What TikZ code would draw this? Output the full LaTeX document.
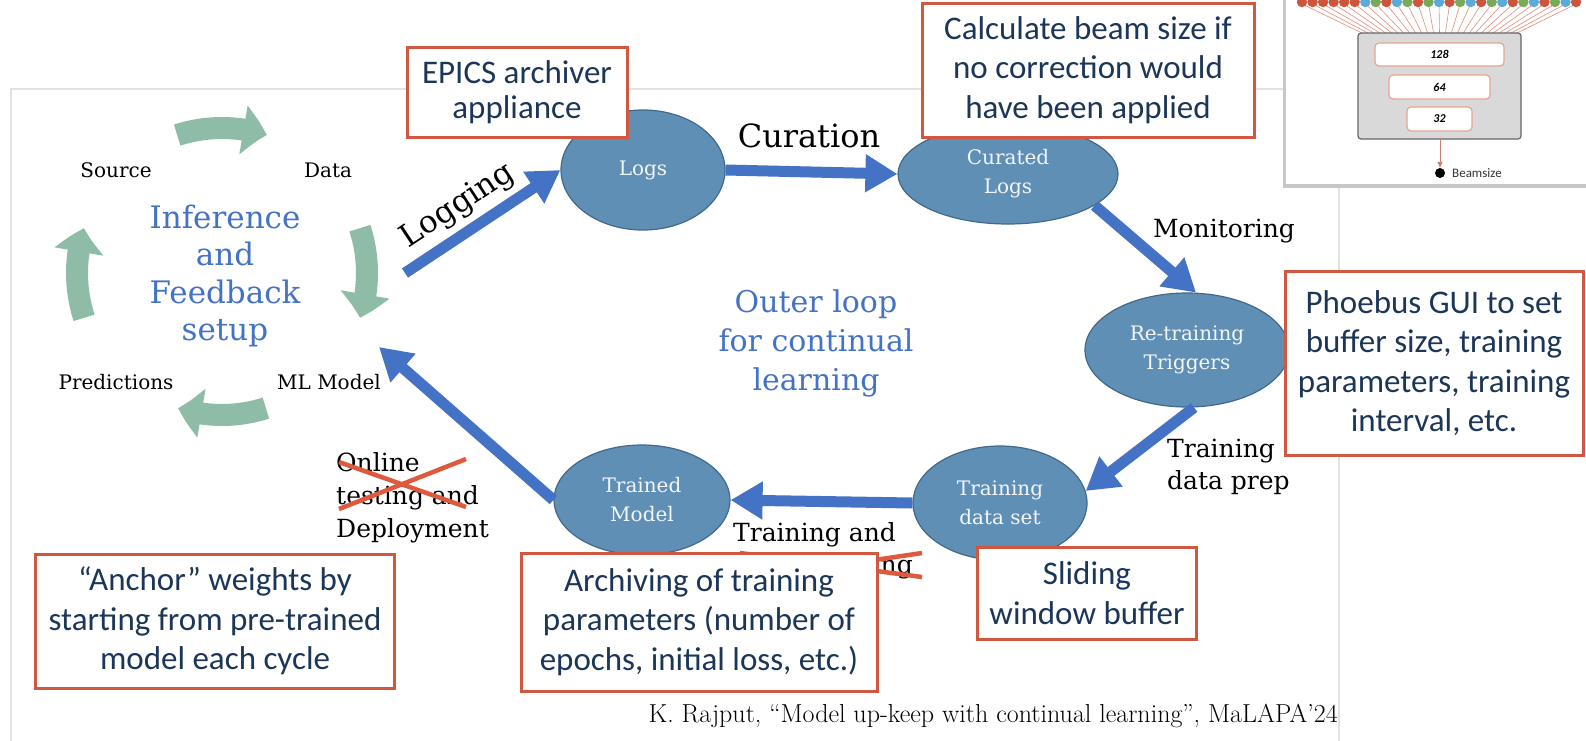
\documentclass[tikz,border=0pt]{standalone}
\usepackage{fontspec}
\newfontfamily\dserif{DejaVu Serif}
\newfontfamily\calib{Carlito}
\usetikzlibrary{shapes.geometric,arrows.meta,bending}
\definecolor{ellfill}{RGB}{96,143,182}
\definecolor{elldraw}{RGB}{65,105,140}
\definecolor{arrowblue}{RGB}{68,114,196}
\definecolor{cycgreen}{RGB}{143,188,166}
\definecolor{callred}{RGB}{208,88,64}
\definecolor{navy}{RGB}{28,54,88}
\definecolor{textblue}{RGB}{68,114,196}
\definecolor{strikered}{RGB}{222,90,62}
\definecolor{framegray}{RGB}{226,226,226}
\definecolor{dotr}{RGB}{205,85,60}
\definecolor{dotb}{RGB}{90,170,220}
\definecolor{dotg}{RGB}{120,170,90}
\definecolor{fanline}{RGB}{228,140,120}
\begin{document}
\begin{tikzpicture}[x=1pt,y=-1pt,
  ell/.style={ellipse,fill=ellfill,draw=elldraw,line width=1.2pt,inner sep=0pt,
    text=white!92!ellfill,align=center,font=\dserif\fontsize{20}{29}\selectfont},
  barrow/.style={draw=arrowblue,line width=11pt,-{Triangle[length=32pt,width=36pt]}},
  garrow/.style={draw=cycgreen,line width=22pt,-{Triangle[length=24pt,width=48pt,bend]}},
  callout/.style={draw=callred,line width=3pt,fill=white,text=navy,align=center,inner sep=0pt,
    font=\calib\fontsize{33}{39.5}\selectfont},
  lbl/.style={text=black,inner sep=0pt,font=\dserif\fontsize{25}{33}\selectfont},
  cyclbl/.style={text=black,inner sep=0pt,font=\dserif\fontsize{20}{24}\selectfont},
  bigblue/.style={text=textblue,align=center,inner sep=0pt,font=\dserif\fontsize{31}{37.5}\selectfont},
  strike/.style={draw=strikered,line width=4.5pt},
  nnbox/.style={draw=fanline!80,fill=white,rounded corners=4pt,line width=1.2pt,inner sep=0pt,
    font=\calib\bfseries\itshape\fontsize{12}{14}\selectfont}
]
\useasboundingbox (0,0) rectangle (1586,740);
\fill[white] (0,0) rectangle (1586,740);

% frame of the inner figure
\draw[framegray,line width=2pt] (11,745) -- (11,89) -- (1290,89);
\draw[framegray,line width=2pt] (1339,184) -- (1339,745);

% neural-net inset (top right)
\fill[black!22] (1283,-10) rectangle (1600,188);
\fill[white] (1286,-10) rectangle (1600,184);
\foreach \c [count=\i from 0] in {r,r,r,r,r,r,b,g,r,b,g,r,g,b,r,g,b,r,g,b,r,g,b,r,g,b,r}{
  \draw[fanline,line width=0.6pt] (1302+\i*10.54,4) -- (1362+\i*5.96,33);
  \fill[dot\c] (1302+\i*10.54,2) circle (5.2);
}
\draw[draw=black!60,fill=black!15,rounded corners=3pt,line width=1.2pt] (1358,33) rectangle (1521,139);
\node[nnbox,minimum width=129pt,minimum height=23pt] (n128) at (1439.5,54.5) {128};
\node[nnbox,minimum width=101pt,minimum height=24pt] (n64) at (1439.5,87) {64};
\node[nnbox,minimum width=65pt,minimum height=24pt] (n32) at (1439.5,119) {32};
\coordinate (nnout) at (1440,139);
\node[circle,fill=black,inner sep=0pt,minimum size=10pt] (bdot) at (1440,173) {};
\draw[fanline!90!black,line width=1pt,-{Triangle[length=6pt,width=5pt]}] (nnout) -- (bdot.north);
\node[anchor=west,inner sep=0pt,text=black!80,font=\calib\fontsize{13}{15}\selectfont] (bsz) at (1452,173) {Beamsize};

% left cycle
\coordinate (cyc) at (222,273);
\draw[garrow] ([shift={(-108:145)}]cyc) arc[start angle=-108,end angle=-72,radius=145];
\draw[garrow] ([shift={(-18:145)}]cyc) arc[start angle=-18,end angle=18,radius=145];
\draw[garrow] ([shift={(72:142)}]cyc) arc[start angle=72,end angle=108,radius=142];
\draw[garrow] ([shift={(162:145)}]cyc) arc[start angle=162,end angle=198,radius=145];
\node[cyclbl] (src) at (116,170) {Source};
\node[cyclbl] (dat) at (328,170) {Data};
\node[cyclbl] (pred) at (116,382) {Predictions};
\node[cyclbl] (mlm) at (329,382) {ML Model};
\node[bigblue] (inf) at (225,276) {Inference\\and\\Feedback\\setup};

% ellipses
\node[ell,minimum width=164pt,minimum height=120pt] (logs) at (643,170) {Logs};
\node[ell,minimum width=220pt,minimum height=100pt] (cur) at (1008,174) {Curated\\Logs};
\node[ell,minimum width=204pt,minimum height=114pt] (ret) at (1187,350) {Re-training\\Triggers};
\node[ell,minimum width=174pt,minimum height=114pt] (tds) at (1000,503) {Training\\data set};
\node[ell,minimum width=176pt,minimum height=110pt] (tm) at (642,500) {Trained\\Model};

% blue connectors
\coordinate (logtail) at (405,273);
\coordinate (mltip) at (379,347);
\draw[barrow] (logtail) -- (logs.west);
\draw[barrow] (logs.east) -- (cur.west);
\draw[barrow] (cur.-20) -- (ret.81);
\draw[barrow] (ret.-83) -- (tds.8);
\draw[barrow] (tds.west) -- (tm.east);
\draw[barrow] (tm.west) -- (mltip);

% connector labels
\node[lbl,rotate=33.5,font=\dserif\fontsize{31}{34}\selectfont] (logging) at (458,206) {Logging};
\node[lbl,font=\dserif\fontsize{32}{34}\selectfont] (curation) at (809,136) {Curation};
\node[lbl] (monit) at (1224,231) {Monitoring};
\node[lbl,anchor=north west,align=left,font=\dserif\fontsize{25}{32}\selectfont] (tdprep) at (1167,439) {Training\\data prep};
\node[lbl,anchor=west] (trainand) at (733,535) {Training and};
\node[lbl,anchor=east] (testing) at (913,567) {testing};
\node[lbl,anchor=north west,align=left] (online) at (336,452) {Online\\testing and\\Deployment};
\node[bigblue,font=\dserif\fontsize{30}{39}\selectfont] (outer) at (816,343) {Outer loop\\for continual\\learning};

% red strike-outs
\coordinate (sa1) at (339,462); \coordinate (sa2) at (466,507);
\coordinate (sb1) at (339,509); \coordinate (sb2) at (466,459);
\draw[strike] (sa1) -- (sa2);
\draw[strike] (sb1) -- (sb2);
\coordinate (sc1) at (740,553); \coordinate (sc2) at (922,577);
\coordinate (sd1) at (740,580); \coordinate (sd2) at (922,553);
\draw[strike] (sc1) -- (sc2);
\draw[strike] (sd1) -- (sd2);

% callouts
\node[callout,minimum width=220pt,minimum height=90pt,font=\calib\fontsize{33}{35}\selectfont] (epics) at (517,92) {EPICS archiver\\appliance};
\node[callout,minimum width=332pt,minimum height=134pt] (calc) at (1088,70) {Calculate beam size if\\no correction would\\have been applied};
\node[callout,minimum width=298pt,minimum height=184pt] (phoebus) at (1434,363) {Phoebus GUI to set\\buffer size, training\\parameters, training\\interval, etc.};
\node[callout,minimum width=219pt,minimum height=92pt] (slide) at (1087,593) {Sliding\\window buffer};
\node[callout,minimum width=356pt,minimum height=138pt] (archiv) at (699,622) {Archiving of training\\parameters (number of\\epochs, initial loss, etc.)};
\node[callout,minimum width=359pt,minimum height=134pt] (anchor) at (215,621) {“Anchor” weights by\\starting from pre-trained\\model each cycle};

% citation
\node[anchor=east,inner sep=0pt,font=\fontsize{26}{28}\selectfont] (cite) at (1338,716) {K. Rajput, ``Model up-keep with continual learning'', MaLAPA'24};
\end{tikzpicture}
\end{document}
